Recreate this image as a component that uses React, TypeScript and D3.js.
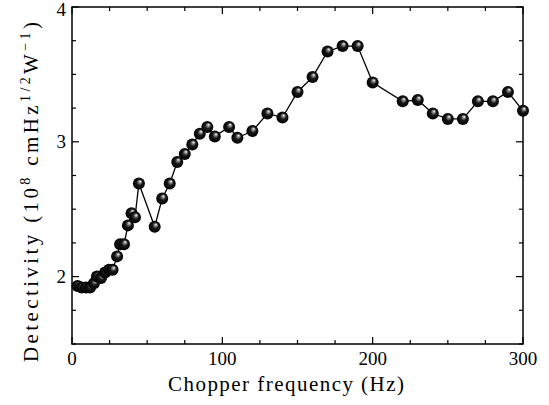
import React from "react";
import * as d3 from "d3";

const freq = [3.7, 6.3, 9.3, 12, 14.6, 16.6, 19.3, 22, 24.6, 27, 30, 32, 34.6, 37.2, 39.6, 41.9, 44.5, 55, 60, 65, 70, 75, 80, 85, 90, 95, 104.5, 110, 120, 130, 140, 150, 160, 170, 180, 190, 200, 220, 230, 240, 250, 260, 270, 280, 290, 300];
const detectivity = [1.93, 1.92, 1.92, 1.92, 1.95, 2.0, 1.99, 2.03, 2.05, 2.05, 2.15, 2.24, 2.24, 2.38, 2.47, 2.44, 2.69, 2.37, 2.58, 2.69, 2.85, 2.91, 2.98, 3.06, 3.11, 3.04, 3.11, 3.03, 3.08, 3.21, 3.18, 3.37, 3.48, 3.67, 3.71, 3.71, 3.44, 3.3, 3.31, 3.21, 3.17, 3.17, 3.3, 3.3, 3.37, 3.23];
const xTickLabels = [0, 100, 200, 300];
const yTickLabels = [2, 3, 4];

const W = 549, H = 405;
const M = { left: 72, right: 523, top: 7, bottom: 344 };
const FONT = "'Liberation Serif', 'Times New Roman', serif";

export default function App() {
  const x = d3.scaleLinear().domain([0, 300]).range([M.left, M.right]);
  const y = d3.scaleLinear().domain([1.5, 4]).range([M.bottom, M.top]);
  const xMinor = d3.range(0, 301, 25);
  const yMinor = d3.range(1.5, 4.001, 0.25);
  const pts = freq.map((f, i) => [f, detectivity[i]] as [number, number]);
  const line = d3.line<[number, number]>().x(d => x(d[0])).y(d => y(d[1]));
  const isMajX = (v: number) => v % 100 === 0;
  const isMajY = (v: number) => Math.abs(v - Math.round(v)) < 1e-6 && v >= 2;
  return (
    <div style={{ position: "absolute", left: 0, top: 0 }}>
      <svg width={W} height={H} style={{ display: "block", background: "#fff" }}>
        <defs>
          <radialGradient id="ball" cx="0.5" cy="0.5" r="0.5" fx="0.62" fy="0.3">
            <stop offset="0" stopColor="#ffffff" />
            <stop offset="0.22" stopColor="#8a8a8a" />
            <stop offset="0.5" stopColor="#181818" />
            <stop offset="1" stopColor="#000" />
          </radialGradient>
        </defs>
        <rect x={M.left} y={M.top} width={M.right - M.left} height={M.bottom - M.top} fill="none" stroke="#000" strokeWidth={1.5} />
        {xMinor.map(v => {
          const len = isMajX(v) ? 7 : 4;
          return (
            <g key={"xt" + v}>
              <line x1={x(v)} x2={x(v)} y1={M.bottom} y2={M.bottom - len} stroke="#000" strokeWidth={1.2} />
              <line x1={x(v)} x2={x(v)} y1={M.top} y2={M.top + len} stroke="#000" strokeWidth={1.2} />
            </g>
          );
        })}
        {yMinor.map(v => {
          const len = isMajY(v) ? 7 : 4;
          return (
            <g key={"yt" + v}>
              <line x1={M.left} x2={M.left + len} y1={y(v)} y2={y(v)} stroke="#000" strokeWidth={1.2} />
              <line x1={M.right} x2={M.right - len} y1={y(v)} y2={y(v)} stroke="#000" strokeWidth={1.2} />
            </g>
          );
        })}
        {xTickLabels.map(v => (
          <text key={"xl" + v} x={x(v)} y={365} textAnchor="middle" fontFamily={FONT} fontSize={19} fill="#000">{v}</text>
        ))}
        {yTickLabels.map(v => (
          <text key={"yl" + v} x={66} y={Math.max(y(v) + 6, 16)} textAnchor="end" fontFamily={FONT} fontSize={19} fill="#000">{v}</text>
        ))}
        <path d={line(pts) || ""} fill="none" stroke="#000" strokeWidth={1.3} />
        {pts.map((p, i) => (
          <circle key={"p" + i} cx={x(p[0])} cy={y(p[1])} r={6} fill="url(#ball)" />
        ))}
        <text x={286} y={391} textAnchor="middle" fontFamily={FONT} fontSize={21} textLength={236} lengthAdjust="spacing" fill="#000">Chopper frequency (Hz)</text>
        <text transform={`translate(38,192) rotate(-90)`} textAnchor="middle" fontFamily={FONT} fontSize={21} textLength={340} lengthAdjust="spacing" fill="#000">
          Detectivity (10<tspan dy={-8} fontSize={14}>8</tspan><tspan dy={8}> cmHz</tspan><tspan dy={-8} fontSize={14}>1/2</tspan><tspan dy={8}>W</tspan><tspan dy={-8} fontSize={14}>−1</tspan><tspan dy={8}>)</tspan>
        </text>
      </svg>
    </div>
  );
}
